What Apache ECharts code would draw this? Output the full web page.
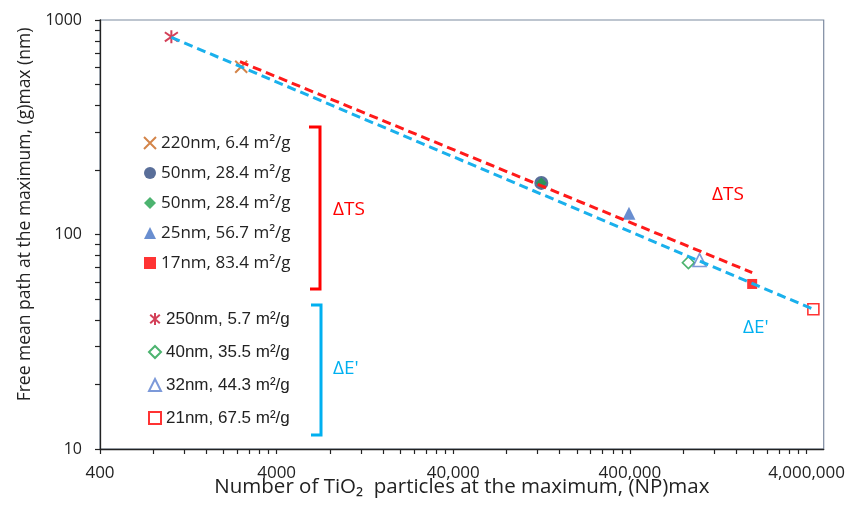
<!DOCTYPE html>
<html>
<head>
<meta charset="utf-8">
<script src="https://cdn.jsdelivr.net/npm/echarts@6/dist/echarts.min.js"></script>
<style>
  html, body { margin: 0; padding: 0; background: #fff; }
  #chart { width: 848px; height: 519px; }
</style>
</head>
<body>
<div id="chart"></div>
<script>
// samples, in legend order (first five: ΔTS, last four: ΔE')
var sampleNames = ['220nm, 6.4 m²/g', '50nm, 28.4 m²/g', '50nm, 28.4 m²/g ', '25nm, 56.7 m²/g', '17nm, 83.4 m²/g',
                   '250nm, 5.7 m²/g', '40nm, 35.5 m²/g', '32nm, 44.3 m²/g', '21nm, 67.5 m²/g'];
var npMax = [2520, 126000, 126000, 395000, 1968000, 1014, 857000, 991000, 4370000];
var gMax  = [605, 174, 174, 125.6, 58.8, 835, 73.9, 76, 44.8];

// power-law fits
var tsFitX = [2480, 1968000];
var tsFitY = [639, 66.4];
var eFitX = [1014, 4370000];
var eFitY = [830, 44.8];

// axis ticks
var xTickValues = [400, 4000, 40000, 400000, 4000000];
var xTickLabels = ['400', '4000', '40,000', '400,000', '4,000,000'];
var yTickValues = [10, 100, 1000];
var yTickLabels = ['10', '100', '1000'];

var X_MAX = 5000000, Y_MAX = 1000;

function allTicks(majors, max) {
  var out = [];
  majors.forEach(function (m) {
    for (var k = 1; k <= 9; k++) {
      if (m * k <= max * 1.0001) out.push(m * k);
    }
  });
  return out;
}
function labelFor(values, labels) {
  return function (v) {
    for (var i = 0; i < values.length; i++) {
      if (Math.abs(Math.log10(v) - Math.log10(values[i])) < 0.002) return labels[i];
    }
    return '';
  };
}

var crossPath = 'path://M0,0L10,10M10,0L0,10';
var starPath = 'path://M5,0L5,10M1,1.5L9,8.5M9,1.5L1,8.5';

var markerStyles = [
  { symbol: crossPath, size: 12, color: '#C8651B', stroke: true },
  { symbol: 'circle', size: 14, color: '#2F4A80' },
  { symbol: 'diamond', size: 11, color: '#1FA04B' },
  { symbol: 'triangle', size: 13, color: '#4472C4' },
  { symbol: 'rect', size: 10, color: '#FF0000' },
  { symbol: starPath, size: 13, color: '#C8102E', stroke: true },
  { symbol: 'diamond', size: 12, color: '#1FA04B', hollow: true },
  { symbol: 'triangle', size: 13, color: '#5B7FD0', hollow: true },
  { symbol: 'rect', size: 11, color: '#FF0000', hollow: true }
];

var series = sampleNames.map(function (name, i) {
  var st = markerStyles[i];
  var itemStyle;
  if (st.stroke) itemStyle = { color: 'rgba(0,0,0,0)', borderColor: st.color, borderWidth: 2 };
  else if (st.hollow) itemStyle = { color: '#fff', borderColor: st.color, borderWidth: 1.6 };
  else itemStyle = { color: st.color };
  return {
    name: name,
    type: 'scatter',
    symbol: st.symbol,
    symbolSize: st.size,
    itemStyle: itemStyle,
    z: 3,
    silent: true,
    data: [[npMax[i], gMax[i]]]
  };
});

series.push({
  name: 'ΔTS fit', type: 'line', symbol: 'none', silent: true, z: 5,
  lineStyle: { color: '#FF1A1A', width: 3, type: [9, 5] },
  data: tsFitX.map(function (x, i) { return [x, tsFitY[i]]; })
});
series.push({
  name: "ΔE' fit", type: 'line', symbol: 'none', silent: true, z: 5,
  lineStyle: { color: '#1AB0EC', width: 3, type: [9, 5] },
  data: eFitX.map(function (x, i) { return [x, eFitY[i]]; })
});

var axisFont = 'Open Sans';
var ink = '#222';

var chart = echarts.init(document.getElementById('chart'));
chart.setOption({
  animation: false,
  grid: { left: 100, right: 23, top: 20, bottom: 70, show: true, borderColor: '#7D8BA0', borderWidth: 1.2 },
  xAxis: {
    type: 'log', logBase: 10, min: 400, max: X_MAX,
    name: 'Number of TiO₂  particles at the maximum, (NP)max',
    nameLocation: 'middle', nameGap: 28, nameMoveOverlap: false,
    nameTextStyle: { fontFamily: axisFont, fontSize: 20.5, color: ink },
    axisLine: { lineStyle: { color: ink, width: 1.3 } },
    axisTick: { inside: false, length: 5, customValues: allTicks(xTickValues, X_MAX), lineStyle: { color: ink, width: 1.2 } },
    minorTick: { show: false },
    splitLine: { show: false },
    axisLabel: { customValues: xTickValues, formatter: labelFor(xTickValues, xTickLabels),
      fontFamily: axisFont, fontSize: 17, color: ink, margin: 16 }
  },
  yAxis: {
    type: 'log', logBase: 10, min: 10, max: Y_MAX,
    name: 'Free mean path at the maximum, (g)max (nm)',
    nameLocation: 'middle', nameGap: 66, nameRotate: 90, nameMoveOverlap: false,
    nameTextStyle: { fontFamily: axisFont, fontSize: 17.5, color: ink, padding: [0, 0, 0, 40] },
    axisLine: { lineStyle: { color: ink, width: 1.3 } },
    axisTick: { inside: false, length: 5, customValues: allTicks(yTickValues, Y_MAX), lineStyle: { color: ink, width: 1.2 } },
    minorTick: { show: false },
    splitLine: { show: false },
    axisLabel: { customValues: yTickValues, formatter: labelFor(yTickValues, yTickLabels),
      fontFamily: axisFont, fontSize: 16, color: ink, margin: 18 }
  },
  legend: [
    {
      data: sampleNames.slice(0, 5), orient: 'vertical', left: 143, top: 133, padding: 0,
      itemWidth: 12, itemHeight: 12, itemGap: 10, selectedMode: false,
      textStyle: { fontFamily: axisFont, fontSize: 17, color: ink, lineHeight: 20 }
    },
    {
      data: sampleNames.slice(5), orient: 'vertical', left: 148, top: 309, padding: 0,
      itemWidth: 12, itemHeight: 12, itemGap: 13, selectedMode: false,
      textStyle: { fontFamily: 'Liberation Sans', fontSize: 17, color: ink, lineHeight: 20 }
    }
  ],
  graphic: [
    { type: 'polyline', shape: { points: [[309, 127], [320, 127], [320, 289], [310, 289]] },
      style: { stroke: '#FF0000', lineWidth: 3, fill: null } },
    { type: 'polyline', shape: { points: [[311, 305], [321, 305], [321, 435], [311, 435]] },
      style: { stroke: '#00B0F0', lineWidth: 3, fill: null } },
    { type: 'text', left: 333, top: 200, style: { text: 'ΔTS', fill: '#FF0000', font: '19px "Open Sans"' } },
    { type: 'text', left: 333, top: 359, style: { text: "ΔE'", fill: '#00B0F0', font: '19px "Open Sans"' } },
    { type: 'text', left: 712, top: 185, style: { text: 'ΔTS', fill: '#FF0000', font: '19px "Open Sans"' } },
    { type: 'text', left: 743, top: 318, style: { text: "ΔE'", fill: '#00B0F0', font: '19px "Open Sans"' } }
  ],
  series: series
});
</script>
</body>
</html>
